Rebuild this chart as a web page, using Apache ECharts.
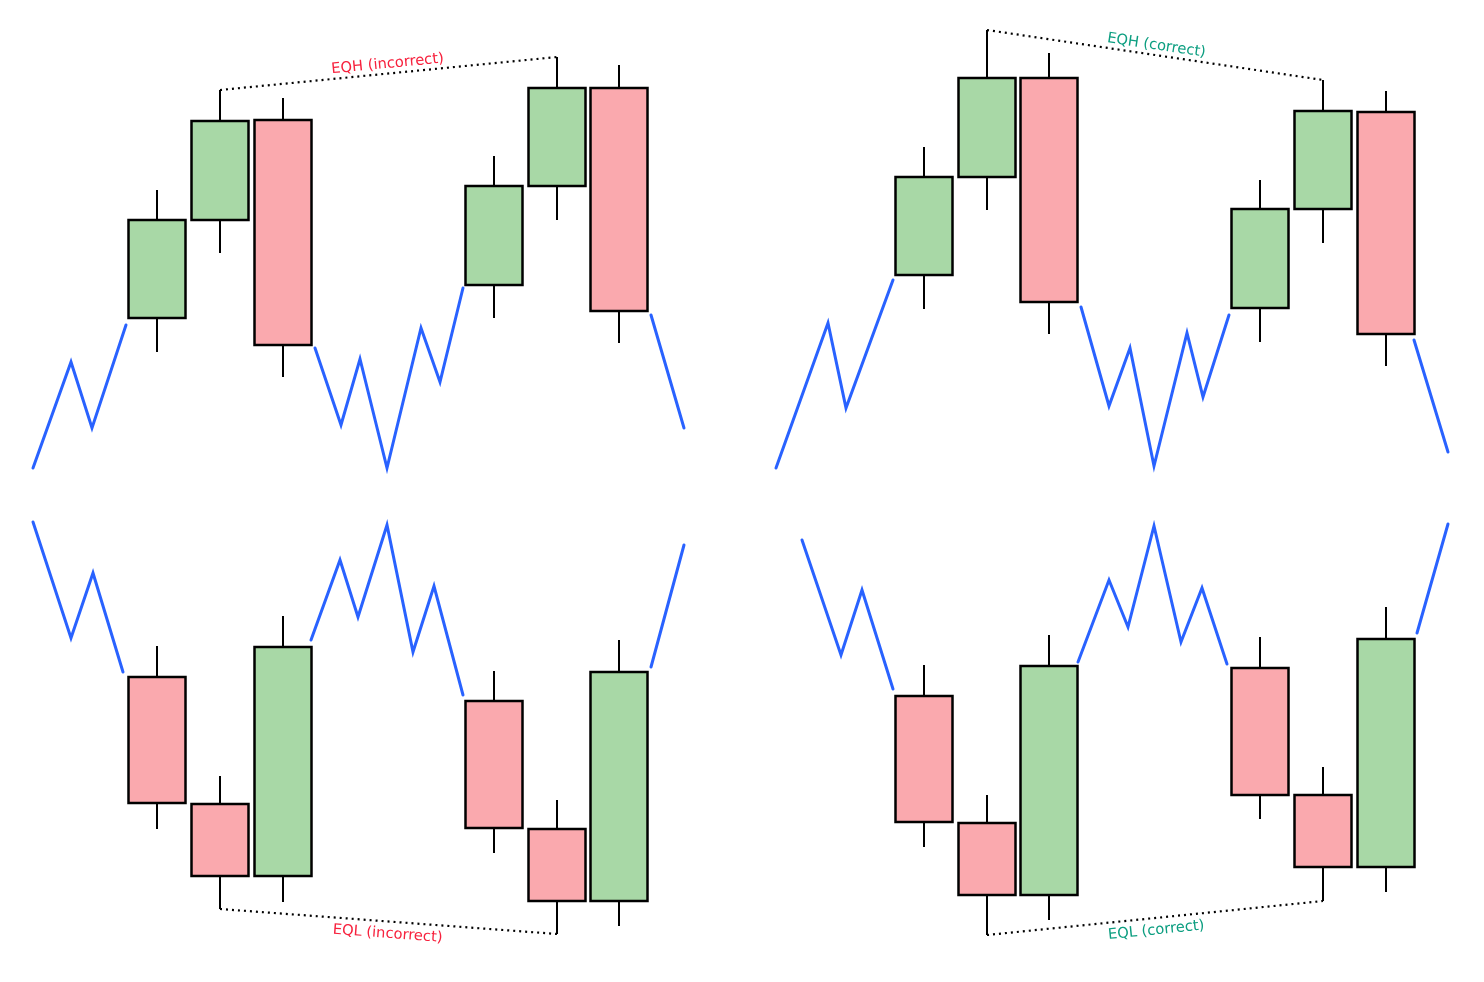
<!DOCTYPE html>
<html>
<head>
<meta charset="utf-8">
<script src="https://cdn.jsdelivr.net/npm/echarts@6/dist/echarts.min.js"></script>
<style>
html,body{margin:0;padding:0;background:#fff;}
#chart{width:1484px;height:982px;}
</style>
</head>
<body>
<div id="chart"></div>
<script>
// ---- DATA (x = time units, y = price units) ----
// candles: [x, open, close, low, high]
const p1Zig1 = [[3.3,2.3],[7.1,12.9],[9.2,6.3],[12.6,16.6]];
const p1Candles = [[15.7,17.3,27.1,13.9,30.1],[22.0,27.1,37.0,23.8,40.1],[28.3,37.1,14.6,11.4,39.3],
                   [49.4,20.6,30.5,17.3,33.5],[55.7,30.5,40.3,27.1,43.4],[61.9,40.3,18.0,14.8,42.6]];
const p1Zig2 = [[31.5,14.3],[34.1,6.6],[36.0,13.2],[38.7,2.3],[42.1,16.3],[44.0,10.9],[46.3,20.3]];
const p1Zig3 = [[65.1,17.6],[68.4,6.3]];
const p1Level = [[22.0,40.1],[55.7,43.4]];
const p1Label = 'EQH (incorrect)';

const p2Zig1 = [[3.4,2.3],[8.6,16.8],[10.4,8.3],[15.1,21.1]];
const p2Candles = [[18.2,21.6,31.4,18.2,34.4],[24.5,31.4,41.3,28.1,46.1],[30.7,41.3,18.9,15.7,43.8],
                   [51.8,18.3,28.2,14.9,31.1],[58.1,28.2,38.0,24.8,41.1],[64.4,37.9,15.7,12.5,40.0]];
const p2Zig2 = [[33.9,18.4],[36.7,8.5],[38.8,14.3],[41.2,2.5],[44.5,15.8],[46.1,9.4],[48.7,17.6]];
const p2Zig3 = [[67.2,15.1],[70.6,3.9]];
const p2Level = [[24.5,46.1],[58.1,41.1]];
const p2Label = 'EQH (correct)';

const p3Zig1 = [[3.3,46.0],[7.1,34.4],[9.3,40.9],[12.3,31.0]];
const p3Candles = [[15.7,30.5,17.9,15.3,33.6],[22.0,17.8,10.6,7.3,20.6],[28.3,10.6,33.5,8.0,36.6],
                   [49.4,28.1,15.4,12.9,31.1],[55.7,15.3,8.1,4.8,18.2],[61.9,8.1,31.0,5.6,34.2]];
const p3Zig2 = [[31.1,34.2],[34.0,42.2],[35.8,36.5],[38.7,45.7],[41.3,33.0],[43.4,39.6],[46.3,28.7]];
const p3Zig3 = [[65.1,31.5],[68.4,43.7]];
const p3Level = [[22.0,7.3],[55.7,4.8]];
const p3Label = 'EQL (incorrect)';

const p4Zig1 = [[6.0,44.2],[9.9,32.7],[12.0,39.2],[15.1,29.3]];
const p4Candles = [[18.2,28.6,16.0,13.5,31.7],[24.5,15.9,8.7,4.7,18.7],[30.7,8.7,31.6,6.2,34.7],
                   [51.8,31.4,18.7,16.3,34.5],[58.1,18.7,11.5,8.1,21.5],[64.4,11.5,34.3,9.0,37.5]];
const p4Zig2 = [[33.6,32.0],[36.7,40.2],[38.6,35.5],[41.2,45.6],[43.9,34.0],[46.0,39.4],[48.5,31.8]];
const p4Zig3 = [[67.5,34.9],[70.6,45.8]];
const p4Level = [[24.5,4.7],[58.1,8.1]];
const p4Label = 'EQL (correct)';

// ---- STYLE ----
const GREEN = '#a8d8a6';
const RED = '#faa9ae';
const BLUE = '#2962ff';
const TXT_RED = '#f7213d';
const TXT_TEAL = '#0c9e80';
const BODY_W = 5.7;

const panels = [
  {zigs:[p1Zig1,p1Zig2,p1Zig3], candles:p1Candles, level:p1Level, label:p1Label, color:TXT_RED, above:true,
   grid:{left:0, top:0}},
  {zigs:[p2Zig1,p2Zig2,p2Zig3], candles:p2Candles, level:p2Level, label:p2Label, color:TXT_TEAL, above:true,
   grid:{left:742, top:0}},
  {zigs:[p3Zig1,p3Zig2,p3Zig3], candles:p3Candles, level:p3Level, label:p3Label, color:TXT_RED, above:false,
   grid:{left:0, top:491}},
  {zigs:[p4Zig1,p4Zig2,p4Zig3], candles:p4Candles, level:p4Level, label:p4Label, color:TXT_TEAL, above:false,
   grid:{left:742, top:491}}
];

function renderCandle(params, api){
  const x = api.value(0), o = api.value(1), c = api.value(2), l = api.value(3), h = api.value(4);
  const pO = api.coord([x,o]), pC = api.coord([x,c]), pL = api.coord([x,l]), pH = api.coord([x,h]);
  const w = api.size([BODY_W,0])[0];
  const top = Math.min(pO[1],pC[1]), bot = Math.max(pO[1],pC[1]);
  const cx = Math.round(pO[0]);
  return {type:'group', children:[
    {type:'line', shape:{x1:cx,y1:pH[1],x2:cx,y2:top}, style:{stroke:'#000',lineWidth:2}},
    {type:'line', shape:{x1:cx,y1:bot,x2:cx,y2:pL[1]}, style:{stroke:'#000',lineWidth:2}},
    {type:'rect', shape:{x:cx-w/2,y:top,width:w,height:bot-top},
     style:{fill: c>=o ? GREEN : RED, stroke:'#000', lineWidth:2.5}}
  ]};
}

function makeLabelRenderer(text, color, above){
  return function(params, api){
    const a = api.coord([api.value(0), api.value(1)]);
    const b = api.coord([api.value(2), api.value(3)]);
    const ang = -Math.atan2(b[1]-a[1], b[0]-a[0]);
    return {type:'text', x:(a[0]+b[0])/2, y:(a[1]+b[1])/2, rotation:ang,
      style:{text:text, fill:color, font:'14.7px "DejaVu Sans"', align:'center',
        verticalAlign: above ? 'bottom' : 'top', y: above ? -2 : 5}};
  };
}

const grids = [], xAxes = [], yAxes = [], series = [];
panels.forEach((p, i) => {
  grids.push({left:p.grid.left, top:p.grid.top, width:742, height:491, containLabel:false});
  xAxes.push({type:'value', gridIndex:i, min:0, max:74.2, show:false});
  yAxes.push({type:'value', gridIndex:i, min:0, max:49.1, show:false});
  p.zigs.forEach(z => series.push({type:'line', xAxisIndex:i, yAxisIndex:i, data:z, showSymbol:false,
    symbol:'none', clip:false, lineStyle:{color:BLUE, width:3, cap:'round', join:'miter'}, silent:true}));
  series.push({type:'line', xAxisIndex:i, yAxisIndex:i, data:p.level, showSymbol:false, symbol:'none',
    clip:false, lineStyle:{color:'#000', width:2.2, type:[2,4]}, silent:true});
  series.push({type:'custom', xAxisIndex:i, yAxisIndex:i, data:p.candles, renderItem:renderCandle, clip:false,
    silent:true});
  series.push({type:'custom', xAxisIndex:i, yAxisIndex:i,
    data:[[p.level[0][0],p.level[0][1],p.level[1][0],p.level[1][1]]],
    renderItem:makeLabelRenderer(p.label, p.color, p.above), clip:false, silent:true});
});

const chart = echarts.init(document.getElementById('chart'), null, {renderer:'canvas'});
chart.setOption({animation:false, backgroundColor:'#fff', grid:grids, xAxis:xAxes, yAxis:yAxes, series:series});
</script>
</body>
</html>
